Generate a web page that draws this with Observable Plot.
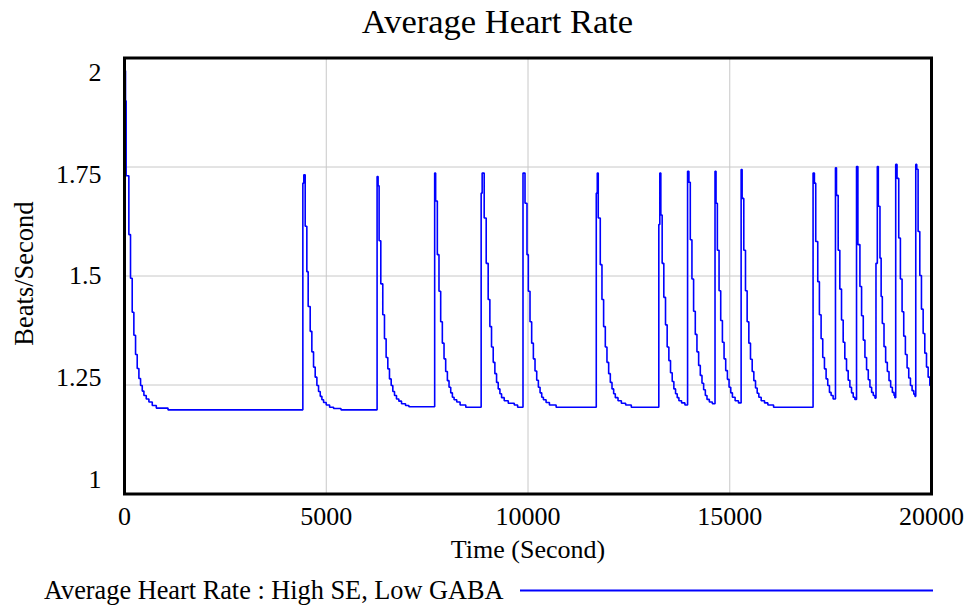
<!DOCTYPE html>
<html><head><meta charset="utf-8">
<script src="https://cdn.jsdelivr.net/npm/d3@7"></script>
<script src="https://cdn.jsdelivr.net/npm/@observablehq/plot@0.6"></script>
<style>
body{margin:0;background:#fff;}
#wrap{position:relative;width:968px;height:606px;font-family:"Liberation Serif",serif;}
#wrap svg{position:absolute;left:0;top:0;}
#wrap svg text{font-family:"Liberation Serif",serif !important;}
</style></head><body><div id="wrap"></div>
<script>
// Axis ticks
const xTicks = [0, 5000, 10000, 15000, 20000];
const yTicks = [1, 1.25, 1.5, 1.75, 2];
const yTickLabels = ["1", "1.25", "1.5", "1.75", "2"];

// Average Heart Rate : High SE, Low GABA — [time (s), beats/second]
const ep00 = [[0,1.198],[12,1.971],[25,1.902],[41,1.730],[108,1.595],[149,1.495],[191,1.417],[232,1.364],[274,1.320],[315,1.288],[357,1.265],[398,1.249],[440,1.236],[481,1.226],[539,1.218],[605,1.211],[688,1.203],[788,1.197],[1078,1.193]];
const ep01 = [[4420,1.713],[4444,1.732],[4478,1.614],[4519,1.510],[4552,1.430],[4602,1.373],[4643,1.326],[4685,1.291],[4726,1.268],[4768,1.249],[4809,1.235],[4851,1.224],[4892,1.216],[4934,1.210],[5000,1.204],[5083,1.199],[5182,1.196],[5365,1.193]];
const ep02 = [[6260,1.728],[6285,1.707],[6310,1.581],[6352,1.482],[6401,1.411],[6443,1.356],[6484,1.313],[6526,1.287],[6567,1.264],[6609,1.249],[6650,1.235],[6692,1.226],[6741,1.218],[6799,1.213],[6866,1.207],[6965,1.203],[7048,1.200]];
const ep03 = [[7687,1.736],[7711,1.672],[7753,1.549],[7794,1.465],[7836,1.395],[7877,1.346],[7919,1.310],[7960,1.281],[8002,1.260],[8043,1.245],[8085,1.232],[8126,1.222],[8168,1.216],[8234,1.211],[8317,1.204],[8458,1.199]];
const ep04 = [[8839,1.690],[8864,1.736],[8914,1.633],[8964,1.529],[9013,1.446],[9055,1.384],[9096,1.337],[9138,1.302],[9179,1.276],[9221,1.256],[9262,1.241],[9304,1.230],[9345,1.221],[9411,1.214],[9511,1.208],[9660,1.204],[9743,1.199]];
const ep05 = [[9876,1.736],[9926,1.667],[9975,1.549],[10008,1.465],[10050,1.395],[10091,1.346],[10133,1.310],[10174,1.282],[10216,1.261],[10257,1.245],[10299,1.232],[10340,1.222],[10382,1.216],[10448,1.210],[10531,1.204],[10697,1.199]];
const ep06 = [[11692,1.690],[11717,1.736],[11741,1.633],[11791,1.526],[11833,1.446],[11874,1.384],[11916,1.337],[11957,1.302],[11999,1.276],[12040,1.256],[12082,1.241],[12123,1.230],[12164,1.221],[12231,1.214],[12314,1.208],[12420,1.204],[12560,1.199]];
const ep07 = [[13242,1.618],[13267,1.736],[13292,1.640],[13325,1.529],[13366,1.451],[13408,1.388],[13449,1.337],[13491,1.306],[13532,1.278],[13574,1.258],[13615,1.241],[13657,1.230],[13698,1.221],[13740,1.214],[13806,1.209],[13889,1.204]];
const ep08 = [[13955,1.740],[13988,1.715],[14022,1.583],[14063,1.493],[14104,1.419],[14146,1.366],[14187,1.326],[14229,1.295],[14270,1.272],[14312,1.254],[14353,1.239],[14395,1.226],[14436,1.217],[14494,1.211],[14569,1.207]];
const ep09 = [[14635,1.740],[14660,1.667],[14693,1.559],[14735,1.466],[14776,1.398],[14818,1.348],[14859,1.310],[14900,1.283],[14942,1.263],[14983,1.245],[15025,1.232],[15066,1.222],[15133,1.214],[15216,1.209]];
const ep10 = [[15282,1.744],[15307,1.678],[15348,1.559],[15390,1.466],[15431,1.395],[15473,1.346],[15514,1.309],[15556,1.281],[15597,1.260],[15639,1.243],[15680,1.231],[15721,1.222],[15779,1.214],[15862,1.209],[15945,1.204],[16086,1.199]];
const ep11 = [[17065,1.736],[17098,1.713],[17131,1.579],[17181,1.487],[17222,1.411],[17264,1.356],[17305,1.313],[17347,1.287],[17388,1.264],[17429,1.249],[17471,1.233],[17512,1.226],[17562,1.218]];
const ep12 = [[17620,1.748],[17645,1.685],[17687,1.559],[17728,1.470],[17770,1.399],[17811,1.348],[17852,1.310],[17894,1.283],[17935,1.261],[17977,1.245],[18018,1.232],[18060,1.222],[18101,1.217]];
const ep13 = [[18142,1.751],[18176,1.572],[18226,1.476],[18267,1.409],[18309,1.353],[18350,1.313],[18391,1.285],[18433,1.262],[18474,1.245],[18516,1.233],[18557,1.226],[18599,1.220]];
const ep14 = [[18624,1.529],[18657,1.751],[18682,1.660],[18723,1.541],[18752,1.453],[18781,1.391],[18823,1.338],[18864,1.302],[18905,1.281],[18947,1.260],[18988,1.245],[19030,1.233],[19071,1.226],[19092,1.221]];
const ep15 = [[19113,1.756],[19146,1.724],[19188,1.587],[19229,1.493],[19271,1.418],[19312,1.362],[19353,1.320],[19395,1.289],[19436,1.266],[19478,1.249],[19519,1.237],[19561,1.229],[19590,1.224]];
const ep16 = [[19610,1.756],[19635,1.745],[19668,1.602],[19710,1.501],[19751,1.424],[19793,1.368],[19834,1.323],[19876,1.291],[19917,1.268],[19959,1.249],[19992,1.238],[20000,1.238]];

const data = [ep00,ep01,ep02,ep03,ep04,ep05,ep06,ep07,ep08,ep09,ep10,ep11,ep12,ep13,ep14,ep15,ep16]
  .flat().map(([t, v]) => ({t, v}));

const serif = '"Liberation Serif", serif';
const chart = Plot.plot({
  width: 968, height: 606,
  marginTop: 57.5, marginBottom: 112.5, marginLeft: 124, marginRight: 37,
  style: {fontFamily: serif, fontSize: "26px", background: "white", color: "black"},
  x: {domain: [0, 20000], ticks: xTicks, tickSize: 0, tickPadding: 13, tickFormat: d => String(d), label: null},
  y: {domain: [1, 2], axis: null},
  marks: [
    Plot.ruleX(xTicks.slice(1, -1), {stroke: "#c8c8c8", strokeWidth: 1}),
    Plot.ruleY(yTicks.slice(1, -1), {stroke: "#c8c8c8", strokeWidth: 1}),
    Plot.line(data, {x: "t", y: "v", curve: "step-after", stroke: "#0000ff", strokeWidth: 1.6, strokeLinejoin: "miter"}),
    Plot.frame({stroke: "black", strokeWidth: 3}),
    Plot.text(yTicks, {y: d => 1.5 + (d - 1.5) * 0.9335, text: (d, i) => yTickLabels[i], frameAnchor: "left", dx: -23, textAnchor: "end", fontSize: 26, fontFamily: serif, fill: "black"})
  ]
});
chart.style.fontFamily = serif;
chart.querySelectorAll("text").forEach(t => t.setAttribute("font-family", serif));
const wrap = document.getElementById("wrap");
wrap.appendChild(chart);

// Title, axis titles, legend
const ns = "http://www.w3.org/2000/svg";
const ov = document.createElementNS(ns, "svg");
ov.setAttribute("width", 968); ov.setAttribute("height", 606);
ov.style.fontFamily = serif;
ov.style.pointerEvents = "none";
function txt(s, x, y, size, anchor, transform) {
  const t = document.createElementNS(ns, "text");
  t.textContent = s;
  if (transform) t.setAttribute("transform", transform); else { t.setAttribute("x", x); t.setAttribute("y", y); }
  t.setAttribute("font-size", size);
  t.setAttribute("font-family", serif);
  t.setAttribute("text-anchor", anchor);
  t.setAttribute("fill", "black");
  ov.appendChild(t);
}
txt("Average Heart Rate", 497.5, 33, 34.5, "middle");
txt("Time (Second)", 528, 557.5, 26, "middle");
txt("Beats/Second", 0, 0, 26.5, "middle", "translate(33,273.5) rotate(-90)");
txt("Average Heart Rate : High SE, Low GABA", 44, 598.5, 26.3, "start");
const ln = document.createElementNS(ns, "line");
ln.setAttribute("x1", 520); ln.setAttribute("x2", 933); ln.setAttribute("y1", 590.5); ln.setAttribute("y2", 590.5);
ln.setAttribute("stroke", "#0000ff"); ln.setAttribute("stroke-width", 2);
ov.appendChild(ln);
wrap.appendChild(ov);
</script></body></html>
